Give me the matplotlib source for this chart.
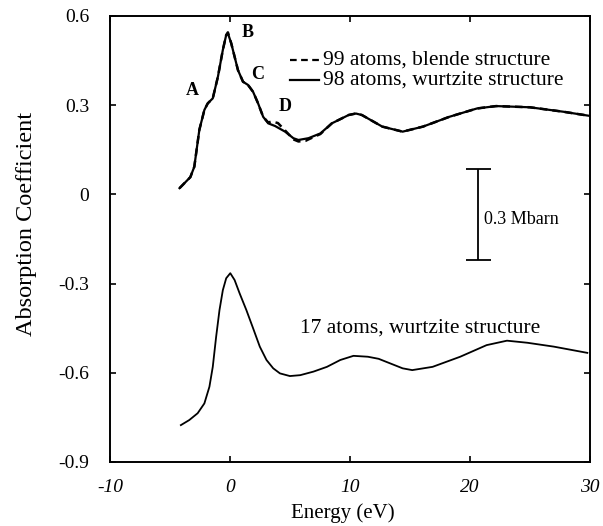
import matplotlib
matplotlib.use("Agg")
import matplotlib.pyplot as plt

plt.rcParams.update({
    'font.family': 'Liberation Serif',
    'font.size': 11,
    'axes.linewidth': 1.4,
    'xtick.direction': 'in',
    'ytick.direction': 'in',
})

# 98 atoms, wurtzite structure (solid)
energy_98 = [-4.2, -3.3, -2.97, -2.55, -2.13, -1.85, -1.43, -1.0, -0.59, -0.31, -0.17,
             0.11, 0.39, 0.67, 1.09, 1.51, 1.93, 2.35, 2.77, 3.19, 3.76, 4.6, 5.29,
             5.71, 6.55, 7.54, 8.5, 9.9, 10.5, 11.0, 12.7, 14.4, 16.1, 18.3, 20.6,
             22.2, 25.0, 27.8, 30.0]
absorb_98 = [0.021, 0.058, 0.093, 0.217, 0.284, 0.306, 0.323, 0.396, 0.486, 0.536, 0.542,
             0.508, 0.463, 0.418, 0.379, 0.368, 0.345, 0.306, 0.261, 0.239, 0.230, 0.211, 0.189,
             0.183, 0.189, 0.205, 0.239, 0.267, 0.272, 0.267, 0.228, 0.211, 0.228, 0.261, 0.289,
             0.297, 0.293, 0.278, 0.264]

# 99 atoms, blende structure (dashed)
energy_99 = [-4.2, -3.3, -2.97, -2.55, -2.13, -1.85, -1.43, -1.0, -0.59, -0.31, -0.17,
             0.11, 0.39, 0.67, 1.09, 1.51, 1.93, 2.35, 2.77, 3.19, 3.5, 4.0, 4.6, 5.29,
             5.71, 6.3, 6.55, 7.54, 8.5, 9.9, 10.5, 11.0, 12.7, 14.4, 16.1, 18.3, 20.6,
             22.2, 25.0, 27.8, 30.0]
absorb_99 = [0.021, 0.058, 0.093, 0.217, 0.284, 0.306, 0.323, 0.396, 0.486, 0.536, 0.545,
             0.508, 0.463, 0.418, 0.379, 0.368, 0.345, 0.306, 0.261, 0.242, 0.245, 0.240, 0.215, 0.185,
             0.178, 0.180, 0.185, 0.203, 0.239, 0.267, 0.272, 0.267, 0.228, 0.211, 0.228, 0.261, 0.289,
             0.297, 0.293, 0.278, 0.264]

# 17 atoms, wurtzite structure
energy_17 = [-4.09, -3.39, -2.69, -2.13, -1.71, -1.43, -1.15, -0.87, -0.59, -0.31, 0.03,
             0.39, 0.81, 1.37, 1.93, 2.49, 3.05, 3.61, 4.17, 5.0, 5.86, 6.97, 8.09,
             9.2, 10.3, 11.5, 12.4, 14.4, 15.2, 16.9, 19.2, 21.4, 23.1, 24.8, 27.0, 29.8]
absorb_17 = [-0.776, -0.759, -0.736, -0.703, -0.647, -0.580, -0.479, -0.389, -0.322, -0.282, -0.265,
             -0.288, -0.333, -0.389, -0.450, -0.512, -0.557, -0.585, -0.602, -0.611, -0.608, -0.596, -0.580,
             -0.557, -0.543, -0.546, -0.553, -0.585, -0.591, -0.580, -0.546, -0.507, -0.492, -0.499, -0.512, -0.533]

peak_labels = ['A', 'B', 'C', 'D']
peak_energy = [-3.1, 1.5, 2.35, 4.6]
peak_value = [0.351, 0.544, 0.403, 0.294]

x_ticks = [-10, 0, 10, 20, 30]
y_ticks = [0.6, 0.3, 0, -0.3, -0.6, -0.9]
y_tick_labels = ['0.6', '0.3', '0', '-0.3', '-0.6', '-0.9']

fig = plt.figure(figsize=(6.03, 5.26), dpi=100)
ax = fig.add_axes([0.1824, 0.1217, 0.7956, 0.8479])

ax.plot(energy_98, absorb_98, color='black', linewidth=1.6)
ax.plot(energy_99, absorb_99, color='black', linewidth=1.8, linestyle=(0, (3, 2)))
ax.plot(energy_17, absorb_17, color='black', linewidth=1.3)

for lab, e, v in zip(peak_labels, peak_energy, peak_value):
    ax.text(e, v, lab, fontsize=13, fontweight='bold', ha='center', va='center')

# legend drawn by hand, as in the original
ax.plot([5.0, 7.4], [0.452, 0.452], color='black', linewidth=1.6, linestyle=(0, (3, 2)))
ax.plot([5.0, 7.4], [0.385, 0.385], color='black', linewidth=1.6)
ax.text(7.8, 0.452, '99 atoms, blende structure', fontsize=15.5, va='center')
ax.text(7.8, 0.385, '98 atoms, wurtzite structure', fontsize=15.5, va='center')

# 0.3 Mbarn scale bar
ax.errorbar([20.7], [-0.067], yerr=[[0.153], [0.153]], color='black', linewidth=1.3,
            capsize=9, capthick=1.3)
ax.text(21.2, -0.086, '0.3 Mbarn', fontsize=13, va='center')

ax.text(5.85, -0.449, '17 atoms, wurtzite structure', fontsize=15.5, va='center')

ax.set_xlim(-10, 30)
ax.set_ylim(-0.9, 0.6)
ax.set_xticks(x_ticks)
ax.set_xticklabels([str(t) for t in x_ticks], fontstyle='italic', fontsize=14)
ax.set_yticks(y_ticks)
ax.set_yticklabels(y_tick_labels, fontsize=14)
ax.tick_params(top=True, right=True, length=4, width=1.2)
ax.tick_params(axis='x', pad=12)
ax.tick_params(axis='y', pad=15)
ax.set_xlabel('Energy (eV)', fontsize=15)
ax.set_ylabel('Absorption Coefficient', fontsize=17.5)
ax.xaxis.set_label_coords(0.485, -0.092)
ax.yaxis.set_label_coords(-0.152, 0.534)

fig.savefig('out.png', dpi=100)
